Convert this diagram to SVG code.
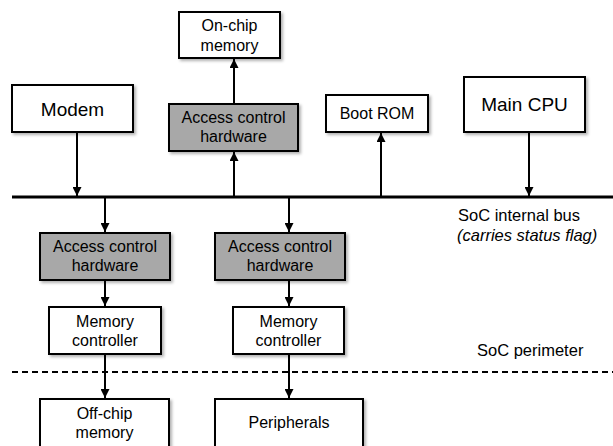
<svg xmlns="http://www.w3.org/2000/svg" width="613" height="446" viewBox="0 0 613 446">
  <defs>
    <filter id="shadow" x="-10%" y="-10%" width="130%" height="140%">
      <feDropShadow dx="2" dy="2" stdDeviation="1.5" flood-color="#000" flood-opacity="0.3"/>
    </filter>
    <marker id="arrow" viewBox="0 0 10 10" refX="10" refY="5" markerWidth="9" markerHeight="9" markerUnits="userSpaceOnUse" orient="auto">
      <path d="M0,0 L10,5 L0,10 Z" fill="#000"/>
    </marker>
  </defs>
  <style>
    .box { fill: #fff; stroke: #000; stroke-width: 2; filter: url(#shadow); }
    .acc { fill: #a8a8a8; stroke: #000; stroke-width: 2; filter: url(#shadow); }
    .lbl { font-family: "Liberation Sans", Arial, sans-serif; font-size: 16px; fill: #000; text-anchor: middle; }
    .big { font-size: 19px; }
    .note { font-family: "Liberation Sans", Arial, sans-serif; font-size: 16.5px; fill: #000; }
    .conn { stroke: #000; stroke-width: 2; fill: none; marker-end: url(#arrow); }
  </style>

  <rect width="613" height="446" fill="#fff"/>

  <!-- bus and perimeter -->
  <g id="bus">
    <line x1="12" y1="197" x2="613" y2="197" stroke="#000" stroke-width="3"/>
    <text class="note" x="458" y="221">SoC internal bus</text>
    <text class="note" x="457" y="241" font-style="italic">(carries status flag)</text>
  </g>
  <g id="perimeter">
    <line x1="12" y1="372" x2="613" y2="372" stroke="#000" stroke-width="2" stroke-dasharray="6,4"/>
    <text class="note" x="477" y="356">SoC perimeter</text>
  </g>

  <!-- connectors -->
  <g id="connectors">
    <line class="conn" x1="77" y1="132" x2="77" y2="196"/>
    <line class="conn" x1="234" y1="196" x2="234" y2="152"/>
    <line class="conn" x1="234" y1="104" x2="234" y2="59"/>
    <line class="conn" x1="381" y1="196" x2="381" y2="133"/>
    <line class="conn" x1="529" y1="132" x2="529" y2="196"/>
    <line class="conn" x1="105" y1="198" x2="105" y2="232"/>
    <line class="conn" x1="105" y1="280" x2="105" y2="306"/>
    <line class="conn" x1="105" y1="354" x2="105" y2="398"/>
    <line class="conn" x1="289" y1="198" x2="289" y2="232"/>
    <line class="conn" x1="289" y1="280" x2="289" y2="306"/>
    <line class="conn" x1="289" y1="354" x2="289" y2="398"/>
  </g>

  <!-- top row -->
  <g id="onchip">
    <rect class="box" x="179" y="12" width="101" height="46"/>
    <text class="lbl" x="229.5" y="31">On-chip</text>
    <text class="lbl" x="229.5" y="51">memory</text>
  </g>
  <g id="modem">
    <rect class="box" x="12" y="85" width="121" height="47"/>
    <text class="lbl big" x="72.5" y="116">Modem</text>
  </g>
  <g id="acc-top">
    <rect class="acc" x="169" y="104" width="129" height="47"/>
    <text class="lbl" x="233.5" y="123">Access control</text>
    <text class="lbl" x="233.5" y="142">hardware</text>
  </g>
  <g id="bootrom">
    <rect class="box" x="326" y="95" width="102" height="37"/>
    <text class="lbl" x="377" y="119">Boot ROM</text>
  </g>
  <g id="cpu">
    <rect class="box" x="464" y="77" width="121" height="55"/>
    <text class="lbl big" x="524.5" y="111">Main CPU</text>
  </g>

  <!-- left branch -->
  <g id="acc-left">
    <rect class="acc" x="40" y="233" width="130" height="47"/>
    <text class="lbl" x="105" y="252">Access control</text>
    <text class="lbl" x="105" y="271">hardware</text>
  </g>
  <g id="mc-left">
    <rect class="box" x="49" y="307" width="112" height="47"/>
    <text class="lbl" x="105" y="327">Memory</text>
    <text class="lbl" x="105" y="346">controller</text>
  </g>
  <g id="offchip">
    <rect class="box" x="40" y="399" width="129" height="60"/>
    <text class="lbl" x="104.5" y="419">Off-chip</text>
    <text class="lbl" x="104.5" y="438">memory</text>
  </g>

  <!-- middle branch -->
  <g id="acc-mid">
    <rect class="acc" x="215" y="233" width="130" height="47"/>
    <text class="lbl" x="280" y="252">Access control</text>
    <text class="lbl" x="280" y="271">hardware</text>
  </g>
  <g id="mc-mid">
    <rect class="box" x="233" y="307" width="111" height="47"/>
    <text class="lbl" x="288.5" y="327">Memory</text>
    <text class="lbl" x="288.5" y="346">controller</text>
  </g>
  <g id="peripherals">
    <rect class="box" x="215" y="399" width="148" height="60"/>
    <text class="lbl" x="289" y="428">Peripherals</text>
  </g>
</svg>
